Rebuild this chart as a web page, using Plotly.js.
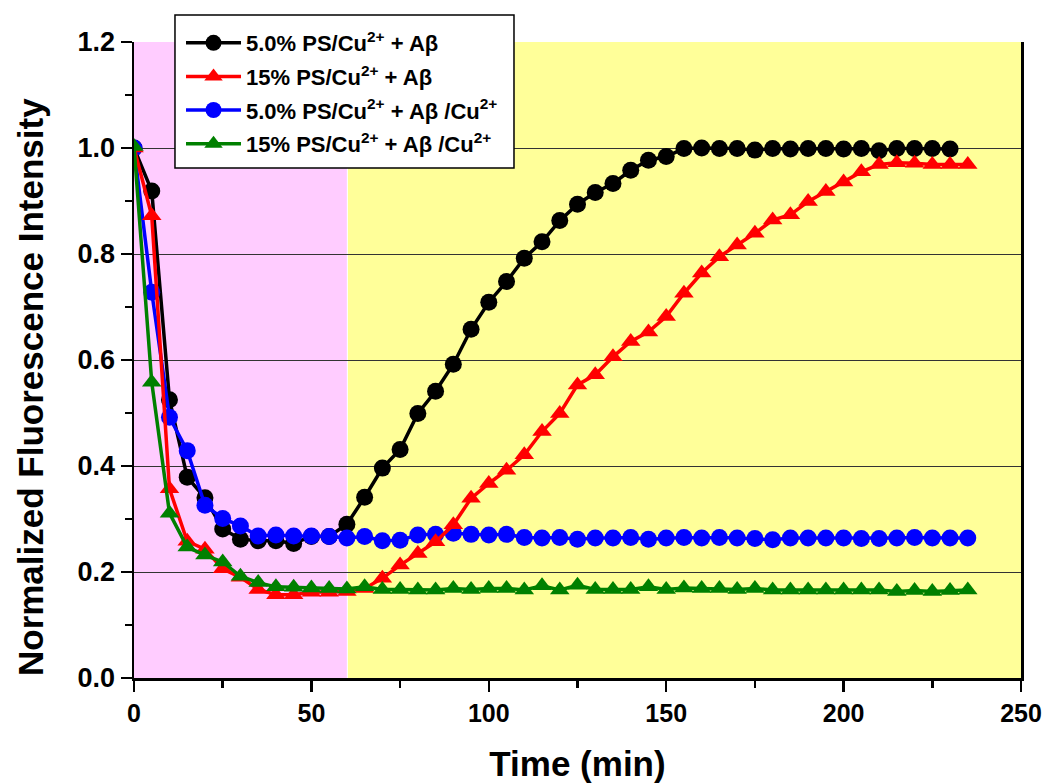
<!DOCTYPE html>
<html>
<head>
<meta charset="utf-8">
<script src="https://cdn.plot.ly/plotly-3.0.1.min.js"></script>
<style>html,body{margin:0;padding:0;background:#fff;}#chart{width:1047px;height:783px;}</style>
</head>
<body>
<div id="chart"></div>
<script>
// Data
const timeA = [0,5,10,15,20,25,30,35,40,45,50,55,60,65,70,75,80,85,90,95,100,105,110,115,120,125,130,135,140,145,150,155,160,165,170,175,180,185,190,195,200,205,210,215,220,225,230];
const timeB = [0,5,10,15,20,25,30,35,40,45,50,55,60,65,70,75,80,85,90,95,100,105,110,115,120,125,130,135,140,145,150,155,160,165,170,175,180,185,190,195,200,205,210,215,220,225,230,235];

const ps5_ab = [1.0,0.919,0.525,0.379,0.34,0.281,0.262,0.259,0.259,0.254,0.267,0.267,0.29,0.341,0.396,0.431,0.499,0.541,0.592,0.658,0.709,0.748,0.792,0.823,0.863,0.894,0.916,0.933,0.958,0.977,0.984,0.999,1.0,0.999,0.999,0.996,0.999,0.998,0.999,0.999,0.998,0.999,0.995,0.999,0.999,0.999,0.998];
const ps15_ab = [1.0,0.872,0.357,0.258,0.243,0.206,0.19,0.167,0.157,0.157,0.162,0.162,0.163,0.169,0.188,0.213,0.235,0.257,0.289,0.339,0.367,0.392,0.421,0.465,0.499,0.553,0.572,0.606,0.635,0.653,0.682,0.726,0.764,0.795,0.817,0.839,0.864,0.874,0.899,0.918,0.936,0.955,0.969,0.972,0.971,0.969,0.969,0.969];
const ps5_abcu = [1.0,0.728,0.492,0.429,0.326,0.301,0.287,0.268,0.27,0.268,0.268,0.267,0.264,0.267,0.259,0.26,0.27,0.271,0.273,0.271,0.27,0.271,0.265,0.264,0.265,0.262,0.264,0.264,0.265,0.262,0.264,0.265,0.264,0.265,0.264,0.263,0.261,0.264,0.264,0.264,0.264,0.263,0.263,0.264,0.265,0.264,0.264,0.264];
const ps15_abcu = [1.003,0.558,0.311,0.247,0.232,0.219,0.192,0.18,0.172,0.171,0.17,0.169,0.168,0.172,0.167,0.167,0.166,0.166,0.169,0.167,0.169,0.169,0.166,0.174,0.166,0.175,0.167,0.167,0.167,0.172,0.167,0.17,0.169,0.169,0.167,0.169,0.166,0.166,0.166,0.166,0.166,0.166,0.166,0.163,0.165,0.163,0.165,0.166];

const seriesNames = [
  '5.0% PS/Cu<sup>2+</sup> + Aβ',
  '15% PS/Cu<sup>2+</sup> + Aβ',
  '5.0% PS/Cu<sup>2+</sup> + Aβ /Cu<sup>2+</sup>',
  '15% PS/Cu<sup>2+</sup> + Aβ /Cu<sup>2+</sup>'
];
const xTickVals = [0,50,100,150,200,250];
const yTickVals = [0,0.2,0.4,0.6,0.8,1.0,1.2];
const yTickText = ['0.0','0.2','0.4','0.6','0.8','1.0','1.2'];
const phaseBounds = [0,60,250];
const xTitle = 'Time (min)';
const yTitle = 'Normalized Fluorescence Intensity';

const mk = (x, y, name, color, symbol, size, rank) => ({
  x: x, y: y, name: name, type: 'scatter', mode: 'lines+markers',
  line: {color: color, width: 3.5},
  marker: {color: color, symbol: symbol, size: size},
  legendrank: rank, legendgroup: 'g' + rank
});

const traces = [
  mk(timeA, ps5_ab, seriesNames[0], '#000000', 'circle', 17, 1),
  mk(timeB, ps5_abcu, seriesNames[2], '#0000FF', 'circle', 17, 3),
  mk(timeB, ps15_ab, seriesNames[1], '#FF0000', 'triangle-up', 17, 2),
  mk(timeB, ps15_abcu, seriesNames[3], '#008000', 'triangle-up', 17, 4)
];

const boldFont = 'Liberation Sans, Arial, sans-serif';

const layout = {
  width: 1047, height: 783,
  margin: {l: 134, r: 26, t: 42, b: 105},
  paper_bgcolor: '#ffffff',
  plot_bgcolor: '#ffffff',
  showlegend: true,
  legend: {
    x: 0.053, y: 1.0314, xanchor: 'left', yanchor: 'top',
    bgcolor: 'rgba(0,0,0,0)', borderwidth: 0,
    font: {family: boldFont, size: 22, color: '#000', weight: 'bold'},
    itemwidth: 55, traceorder: 'grouped', tracegroupgap: 2
  },
  xaxis: {
    range: [0, 250], tickvals: xTickVals, ticks: 'outside', ticklen: 11, tickwidth: 2.5,
    tickcolor: '#000', showline: true, linecolor: '#000', linewidth: 2.5, mirror: false,
    showgrid: false, zeroline: false,
    tickfont: {family: boldFont, size: 25, color: '#000', weight: 'bold'},
    minor: {dtick: 25, ticks: 'outside', ticklen: 7, tickwidth: 2.5, tickcolor: '#000', showgrid: false},
    title: {text: xTitle, font: {family: boldFont, size: 35, color: '#000', weight: 'bold'}, standoff: 26}
  },
  yaxis: {
    range: [0, 1.2], tickvals: yTickVals, ticktext: yTickText, ticks: 'outside', ticklen: 11, tickwidth: 2.5,
    tickcolor: '#000', showline: true, linecolor: '#000', linewidth: 2.5, mirror: true,
    showgrid: true, gridcolor: '#333333', gridwidth: 1, zeroline: false,
    tickfont: {family: boldFont, size: 27, color: '#000', weight: 'bold'},
    minor: {dtick: 0.1, ticks: 'outside', ticklen: 7, tickwidth: 2.5, tickcolor: '#000', showgrid: false},
    title: {text: ''}
  },
  annotations: [
    {text: yTitle, xref: 'paper', yref: 'paper', x: 0, y: 0.4575, xanchor: 'center', yanchor: 'middle',
     xshift: -104, textangle: -90, showarrow: false,
     font: {family: boldFont, size: 35, color: '#000', weight: 'bold'}}
  ],
  shapes: [
    {type: 'rect', xref: 'x', yref: 'y', x0: phaseBounds[0], x1: phaseBounds[1], y0: -0.011, y1: 1.2,
     fillcolor: '#FFCCFF', line: {width: 0}, layer: 'below'},
    {type: 'rect', xref: 'x', yref: 'y', x0: phaseBounds[1] + 0.3, x1: phaseBounds[2], y0: -0.011, y1: 1.2,
     fillcolor: '#FFFF99', line: {width: 0}, layer: 'below'},
    {type: 'rect', xref: 'paper', yref: 'paper', x0: 0.0462, x1: 0.4284, y0: 0.8019, y1: 1.0425,
     fillcolor: '#ffffff', line: {color: '#000000', width: 1.5}, layer: 'above'}
  ]
};

Plotly.newPlot('chart', traces, layout, {displayModeBar: false, staticPlot: true});
</script>
</body>
</html>
